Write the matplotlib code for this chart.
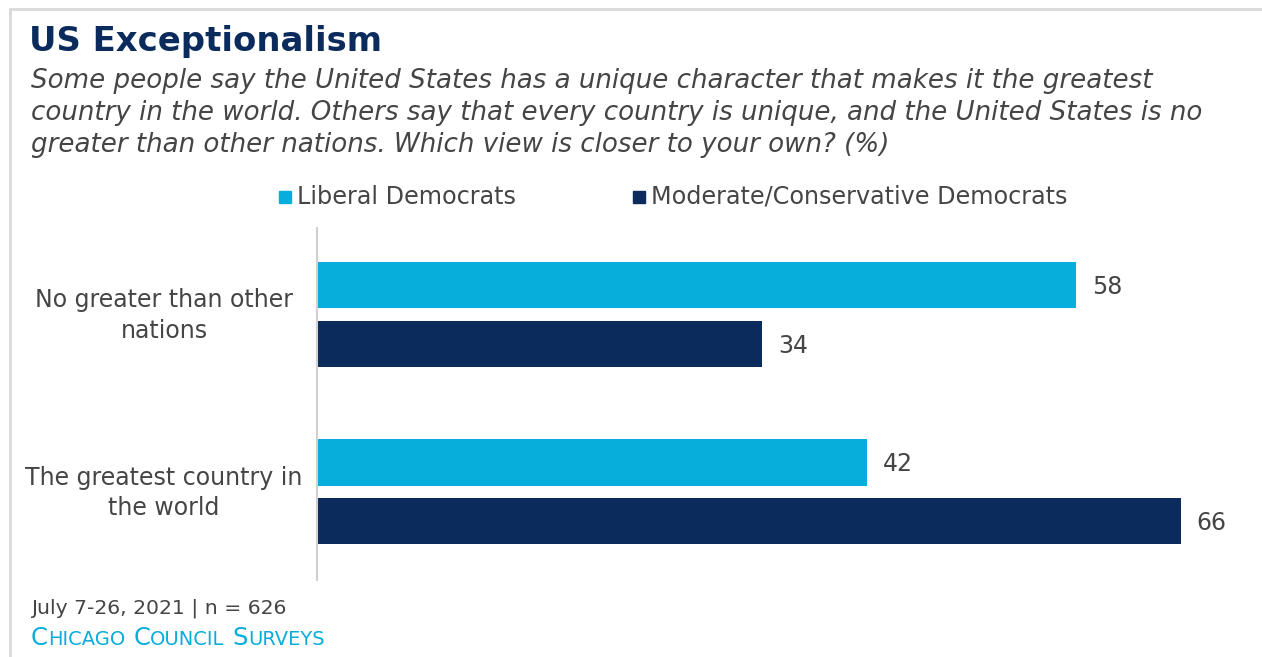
import matplotlib
matplotlib.use("Agg")
import matplotlib.pyplot as plt
from matplotlib.lines import Line2D
from matplotlib.patches import Rectangle
from matplotlib.transforms import blended_transform_factory

plt.rcParams['font.family'] = ['DejaVu Sans']

# survey results (%)
categories = ["No greater than other\nnations", "The greatest country in\nthe world"]
series_names = ["Liberal Democrats", "Moderate/Conservative Democrats"]
liberal = [58, 42]
moderate = [34, 66]

light_blue = "#07addb"
navy = "#0a2b5c"
grey_text = "#454545"

W, H = 1262, 657
fig = plt.figure(figsize=(W / 100, H / 100), dpi=100)

def fx(px):
    return px / W

def fy(py):
    return 1 - py / H

# frame lines along top and left
fig.add_artist(Line2D([fx(10), 1], [fy(9), fy(9)], color="#d9d9d9", lw=2))
fig.add_artist(Line2D([fx(10), fx(10)], [fy(9), 0], color="#d9d9d9", lw=2))

# title + question text
fig.text(fx(29), fy(41), "US Exceptionalism", fontsize=24.4, fontweight="bold",
         color=navy, va="center", ha="left")
question = ("Some people say the United States has a unique character that makes it the greatest\n"
            "country in the world. Others say that every country is unique, and the United States is no\n"
            "greater than other nations. Which view is closer to your own? (%)")
fig.text(fx(31), fy(113), question, fontsize=18.8, style="italic", color=grey_text,
         va="center", ha="left", linespacing=1.31)

# legend
for name, col, x0 in zip(series_names, [light_blue, navy], [279, 633]):
    fig.add_artist(Rectangle((fx(x0), fy(203)), fx(12), 12 / H, color=col,
                             transform=fig.transFigure))
    fig.text(fx(x0 + 18), fy(197), name, fontsize=17.2, color=grey_text,
             va="center", ha="left")

# bars
ax = fig.add_axes([fx(317), fy(580), fx(1240) - fx(317), (580 - 228) / H])
pos = list(range(len(categories)))
off = 0.166
h = 0.26
ax.barh([p - off for p in pos], liberal, height=h, color=light_blue)
ax.barh([p + off for p in pos], moderate, height=h, color=navy)
ax.set_xlim(0, 70.5)
ax.set_ylim(1.496, -0.487)

for p, v in zip(pos, liberal):
    ax.text(v + 1.2, p - off + 0.01, str(v), fontsize=17, color=grey_text, va="center", ha="left")
for p, v in zip(pos, moderate):
    ax.text(v + 1.2, p + off + 0.01, str(v), fontsize=17, color=grey_text, va="center", ha="left")

label_tf = blended_transform_factory(fig.transFigure, ax.transData)
for p, lab in zip(pos, categories):
    ax.text(fx(164), p + 0.005, lab, transform=label_tf, fontsize=17, color=grey_text,
            ha="center", va="center", linespacing=1.35)

for s in ["top", "right", "bottom"]:
    ax.spines[s].set_visible(False)
ax.spines["left"].set_color("#d0d0d0")
ax.spines["left"].set_linewidth(1.5)
ax.set_xticks([])
ax.set_yticks([])

# footer
fig.text(fx(31), fy(608), "July 7-26, 2021 | n = 626", fontsize=14.7, color=grey_text,
         va="center", ha="left")

# small-caps source line
renderer = fig.canvas.get_renderer()
x = fx(31)
for word_i, word in enumerate(["Chicago", "Council", "Surveys"]):
    if word_i > 0:
        x += fx(8)
    for piece, size in [(word[0], 17.5), (word[1:].upper(), 14)]:
        t = fig.text(x, fy(645), piece, fontsize=size, color=light_blue,
                     va="baseline", ha="left")
        bb = t.get_window_extent(renderer)
        x += bb.width / W

fig.savefig("out.png", dpi=100)
